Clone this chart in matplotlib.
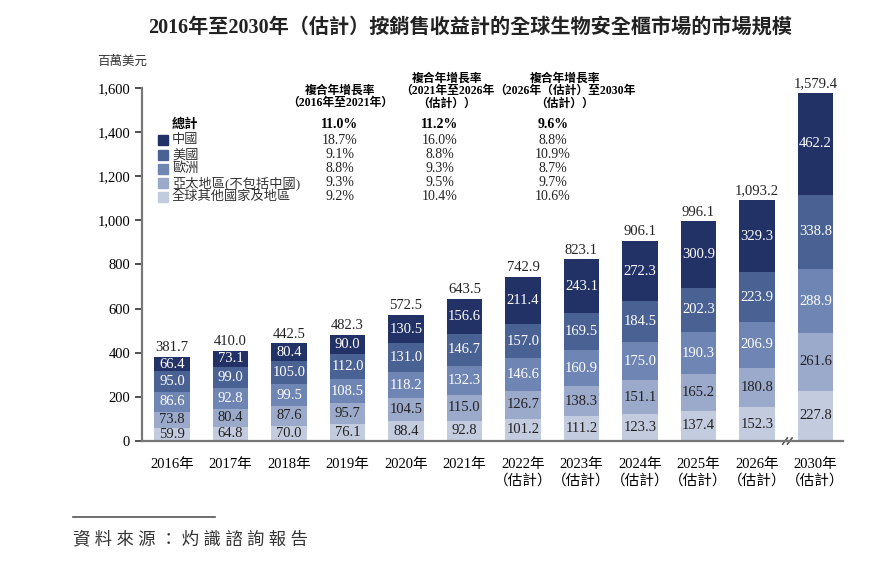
import matplotlib
matplotlib.use("Agg")
import matplotlib.pyplot as plt
import numpy as np

plt.rcParams["font.family"] = ["Liberation Serif", "Noto Sans CJK TC", "DejaVu Sans"]

years = ["2016年", "2017年", "2018年", "2019年", "2020年", "2021年",
         "2022年\n（估計）", "2023年\n（估計）", "2024年\n（估計）", "2025年\n（估計）",
         "2026年\n（估計）", "2030年\n（估計）"]

row = [59.9, 64.8, 70.0, 76.1, 88.4, 92.8, 101.2, 111.2, 123.3, 137.4, 152.3, 227.8]
apac = [73.8, 80.4, 87.6, 95.7, 104.5, 115.0, 126.7, 138.3, 151.1, 165.2, 180.8, 261.6]
europe = [86.6, 92.8, 99.5, 108.5, 118.2, 132.3, 146.6, 160.9, 175.0, 190.3, 206.9, 288.9]
usa = [95.0, 99.0, 105.0, 112.0, 131.0, 146.7, 157.0, 169.5, 184.5, 202.3, 223.9, 338.8]
china = [66.4, 73.1, 80.4, 90.0, 130.5, 156.6, 211.4, 243.1, 272.3, 300.9, 329.3, 462.2]
totals = [381.7, 410.0, 442.5, 482.3, 572.5, 643.5, 742.9, 823.1, 906.1, 996.1, 1093.2, 1579.4]

# legend / CAGR table
region_names = ["中國", "美國", "歐洲", "亞太地區(不包括中國)", "全球其他國家及地區"]
cagr_headers = ["複合年增長率\n（2016年至2021年）",
                "複合年增長率\n（2021年至2026年\n（估計））",
                "複合年增長率\n（2026年（估計）至2030年\n（估計））"]
cagr_total = ["11.0%", "11.2%", "9.6%"]
cagr_rows = [["18.7%", "16.0%", "8.8%"],
             ["9.1%", "8.8%", "10.9%"],
             ["8.8%", "9.3%", "8.7%"],
             ["9.3%", "9.5%", "9.7%"],
             ["9.2%", "10.4%", "10.6%"]]

series = [row, apac, europe, usa, china]
colors = ["#c3cbdf", "#9ba9cb", "#6f85b3", "#4a6193", "#223267"]
text_colors = ["#222222", "#222222", "white", "white", "white"]

fig = plt.figure(figsize=(8.93, 5.63), dpi=100)
ax = fig.add_axes([0.159, 0.2167, 0.785, 0.627])

x = np.arange(len(years))
width = 0.615
bottom = np.zeros(len(years))
for vals, c, tc in zip(series, colors, text_colors):
    vals = np.array(vals)
    ax.bar(x, vals, width, bottom=bottom, color=c, edgecolor="none")
    for xi, b, v in zip(x, bottom, vals):
        ax.text(xi, b + v / 2, f"{v:.1f}", ha="center", va="center",
                fontsize=10.5, color=tc)
    bottom += vals

for xi, t in zip(x, totals):
    ax.text(xi, t + 12, f"{t:,.1f}", ha="center", va="bottom", fontsize=10.5,
            color="#222222")

ax.set_xlim(-0.513, 11.47)
ax.set_ylim(0, 1600)
ax.set_yticks(np.arange(0, 1601, 200))
ax.set_yticklabels([f"{v:,}" for v in range(0, 1601, 200)], fontsize=10.5)
ax.set_xticks(x)
ax.set_xticklabels(years, fontsize=10.5, linespacing=1.25)
ax.tick_params(axis="x", length=0, pad=12)
ax.tick_params(axis="y", length=5, width=1.2, color="#333333", direction="out")
for s in ["top", "right"]:
    ax.spines[s].set_visible(False)
for s in ["left", "bottom"]:
    ax.spines[s].set_color("#777777")
    ax.spines[s].set_linewidth(1.6)

# axis break marks between 2026 and 2030
bx = 10.52
for dx in (-0.04, 0.04):
    ax.plot([bx + dx - 0.04, bx + dx + 0.04], [-14, 14], color="#555555",
            lw=1.2, clip_on=False)

fig.text(122 / 893, 1 - 62 / 563, "百萬美元", fontsize=9, style="italic",
         color="#333333", ha="center", va="center")

# legend and CAGR table
ax_fig = fig.transFigure
head_x = [340 / 893, 447 / 893, 565 / 893]
col_x = [340 / 893, 440 / 893, 553 / 893]
fig.text(head_x[0], 1 - 97 / 563, cagr_headers[0], ha="center", va="center",
         fontsize=8.5, fontweight="bold", linespacing=1.05)
fig.text(head_x[1], 1 - 91 / 563, cagr_headers[1], ha="center", va="center",
         fontsize=8.5, fontweight="bold", linespacing=1.05)
fig.text(head_x[2], 1 - 91 / 563, cagr_headers[2], ha="center", va="center",
         fontsize=8.5, fontweight="bold", linespacing=1.05)

row_y = [125, 140, 155, 169, 183, 197]
fig.text(172 / 893, 1 - row_y[0] / 563, "總計", ha="left", va="center",
         fontsize=9.5, fontweight="bold")
for cx, v in zip(col_x, cagr_total):
    fig.text(cx, 1 - row_y[0] / 563, v, ha="center", va="center",
             fontsize=10, fontweight="bold")
legend_colors = colors[::-1]
for i, (name, vals) in enumerate(zip(region_names, cagr_rows)):
    yy = 1 - row_y[i + 1] / 563
    fig.patches.append(plt.Rectangle((158 / 893, yy - 5 / 563), 10 / 893, 10 / 563,
                                     transform=ax_fig, color=legend_colors[i]))
    fig.text(172 / 893, yy, name, ha="left", va="center", fontsize=9.5,
             color="#333333")
    for cx, v in zip(col_x, vals):
        fig.text(cx, yy, v, ha="center", va="center", fontsize=10,
                 color="#222222")

fig.text(470 / 893, 1 - 28 / 563,
         "2016年至2030年（估計）按銷售收益計的全球生物安全櫃市場的市場規模",
         ha="center", va="center", fontsize=14.5, fontweight="bold",
         color="#222222")

# source note
fig.add_artist(plt.Line2D([73 / 893, 215 / 893], [1 - 517 / 563, 1 - 517 / 563],
                          color="#555555", lw=1.2, transform=ax_fig))
fig.text(73 / 893, 1 - 540 / 563, " ".join("資料來源：灼識諮詢報告"),
         ha="left", va="center", fontsize=12.5, style="italic", color="#333333")

fig.savefig("out.png", dpi=100)
